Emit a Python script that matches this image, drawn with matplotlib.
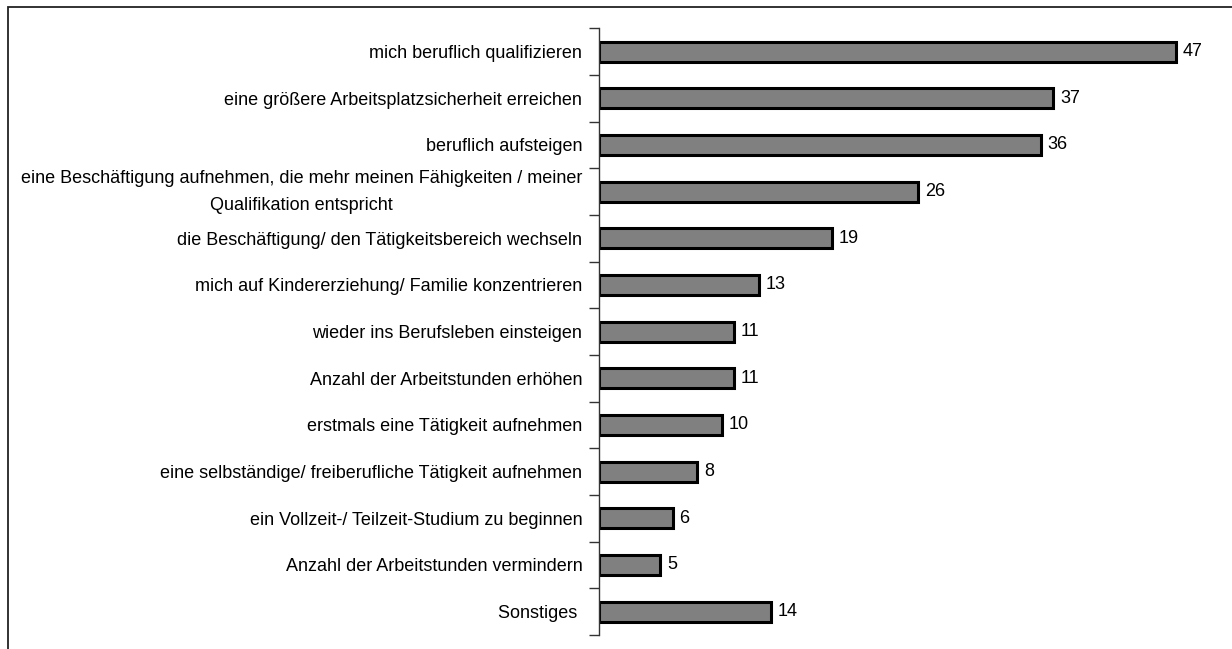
import matplotlib
matplotlib.use("Agg")
import matplotlib.pyplot as plt
from matplotlib.patches import Rectangle
import numpy as np

plt.rcParams['font.family'] = ['Liberation Sans Narrow', 'Liberation Sans', 'DejaVu Sans']

labels = [
    "mich beruflich qualifizieren",
    "eine größere Arbeitsplatzsicherheit erreichen",
    "beruflich aufsteigen",
    "eine Beschäftigung aufnehmen, die mehr meinen Fähigkeiten / meiner\nQualifikation entspricht",
    "die Beschäftigung/ den Tätigkeitsbereich wechseln",
    "mich auf Kindererziehung/ Familie konzentrieren",
    "wieder ins Berufsleben einsteigen",
    "Anzahl der Arbeitstunden erhöhen",
    "erstmals eine Tätigkeit aufnehmen",
    "eine selbständige/ freiberufliche Tätigkeit aufnehmen",
    "ein Vollzeit-/ Teilzeit-Studium zu beginnen",
    "Anzahl der Arbeitstunden vermindern",
    "Sonstiges ",
]
values = [47, 37, 36, 26, 19, 13, 11, 11, 10, 8, 6, 5, 14]

W, H = 1232, 649
fig = plt.figure(figsize=(W / 100, H / 100), dpi=100)

# outer frame (only top/left edges fall inside the image)
fig.patches.append(Rectangle((8 / W, -0.1), 1.2, (H - 7) / H + 0.1,
                             transform=fig.transFigure, fill=False,
                             edgecolor='#222222', linewidth=1.3))

ax_left, ax_right = 599, 1213
ax_top, ax_bot = 28.3, 635
ax = fig.add_axes([ax_left / W, (H - ax_bot) / H,
                   (ax_right - ax_left) / W, (ax_bot - ax_top) / H])

fs = 13
y = np.arange(len(values))
ax.barh(y, values, height=0.43, color='#808080', edgecolor='black', linewidth=2.2)
for yi, v in zip(y, values):
    ax.text(v + 0.55, yi, str(v), va='center', ha='left', fontsize=fs)

ax.set_xlim(0, 50)
ax.set_ylim(len(values) - 0.5, -0.5)

ax.set_yticks(y)
ax.set_yticklabels(labels, fontsize=fs, multialignment='center', linespacing=1.75)
for t in ax.get_yticklabels():
    if "\n" in t.get_text():
        t.set_va('center')
ax.tick_params(axis='y', which='major', length=0, pad=12)
ax.set_yticks(np.arange(len(values) + 1) - 0.5, minor=True)
ax.tick_params(axis='y', which='minor', length=7, width=1, color='#333333')

ax.set_xticks([])
for s in ['top', 'right', 'bottom']:
    ax.spines[s].set_visible(False)
ax.spines['left'].set_color('#333333')
ax.spines['left'].set_linewidth(1)

fig.savefig("out.png", dpi=100)
